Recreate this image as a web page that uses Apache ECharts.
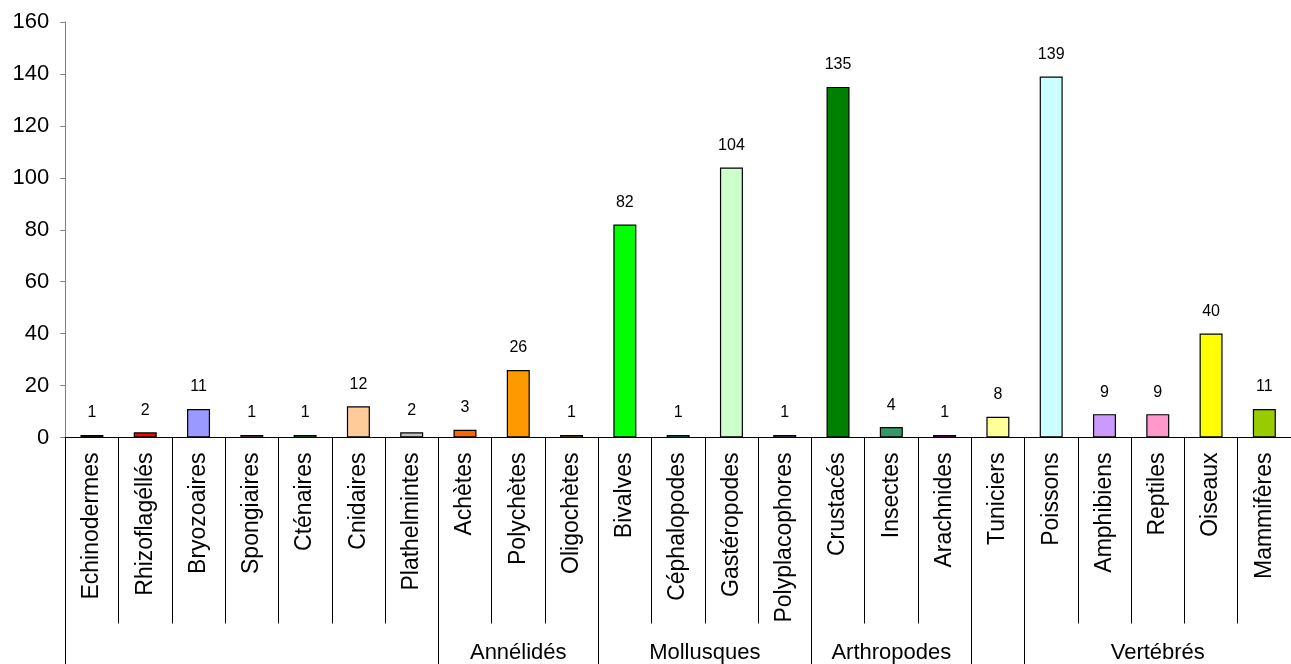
<!DOCTYPE html>
<html>
<head>
<meta charset="utf-8">
<script src="https://cdn.jsdelivr.net/npm/echarts@6/dist/echarts.min.js"></script>
<style>
html,body{margin:0;padding:0;background:#fff;}
#c{width:1291px;height:664px;}
</style>
</head>
<body>
<div id="c"></div>
<script>
const categories = ["Echinodermes","Rhizoflagéllés","Bryozoaires","Spongiaires","Cténaires","Cnidaires","Plathelmintes","Achètes","Polychètes","Oligochètes","Bivalves","Céphalopodes","Gastéropodes","Polyplacophores","Crustacés","Insectes","Arachnides","Tuniciers","Poissons","Amphibiens","Reptiles","Oiseaux","Mammifères"];
const values = [1,2,11,1,1,12,2,3,26,1,82,1,104,1,135,4,1,8,139,9,9,40,11];
const colors = ["#333300","#FF0000","#9999FF","#FF99CC","#00FF00","#FFCC99","#C0C0C0","#FF6600","#FF9900","#FFCC00","#00FF00","#00FFFF","#CCFFCC","#9999FF","#008000","#339966","#FF00FF","#FFFF99","#CCFFFF","#CC99FF","#FF99CC","#FFFF00","#99CC00"];
const groupNames = ["Annélidés","Mollusques","Arthropodes","Vertébrés"];
const groupStart = [7,10,14,18];
const groupEnd = [9,13,16,22];
const groupBoundaries = [0,7,10,14,17,18];
const yTicks = [0,20,40,60,80,100,120,140,160];

const font = '"Liberation Sans", Arial, sans-serif';
const chart = echarts.init(document.getElementById('c'));
const option = {
  animation:false,
  grid:{left:65.3, top:22, width:1235, height:415.5},
  xAxis:[{
    type:'category', data:categories,
    axisLine:{show:true, lineStyle:{color:'#000',width:1}},
    axisTick:{show:true, interval:0, length:186, lineStyle:{color:'#000'}},
    axisLabel:{show:true, interval:0, rotate:90, margin:15, fontSize:23, color:'#000', fontFamily:font}
  },{
    type:'category', data:categories, position:'bottom',
    axisLine:{show:false},
    axisTick:{show:true, length:227, interval:function(i){return groupBoundaries.indexOf(i)>=0;}, lineStyle:{color:'#000'}},
    axisLabel:{show:false}
  }],
  yAxis:{
    type:'value', min:yTicks[0], max:yTicks[yTicks.length-1], interval:20,
    splitLine:{show:false},
    axisLine:{show:true, lineStyle:{color:'#808080'}},
    axisTick:{show:true, inside:false, length:5, lineStyle:{color:'#808080'}},
    axisLabel:{fontSize:22, color:'#000', margin:16, fontFamily:font}
  },
  series:[{
    type:'bar', xAxisIndex:0,
    barWidth:23,
    data:values.map((v,i)=>({value:v, itemStyle:{color:colors[i]}})),
    itemStyle:{borderColor:'#000', borderWidth:1.2},
    label:{show:true, position:'top', distance:14, fontSize:16, color:'#000', fontFamily:font}
  }]
};
chart.setOption(option);
const graphics = groupNames.map((name,k)=>{
  const half = chart.convertToPixel({xAxisIndex:0}, categories[1]) - chart.convertToPixel({xAxisIndex:0}, categories[0]);
  const x1 = chart.convertToPixel({xAxisIndex:0}, categories[groupStart[k]]) - half/2;
  const x2 = chart.convertToPixel({xAxisIndex:0}, categories[groupEnd[k]]) + half/2;
  return {type:'text', x:(x1+x2)/2, y:653, style:{text:name, fill:'#000', font:'22px '+font, textAlign:'center', textVerticalAlign:'middle'}};
});
chart.setOption({graphic:graphics});
</script>
</body>
</html>
